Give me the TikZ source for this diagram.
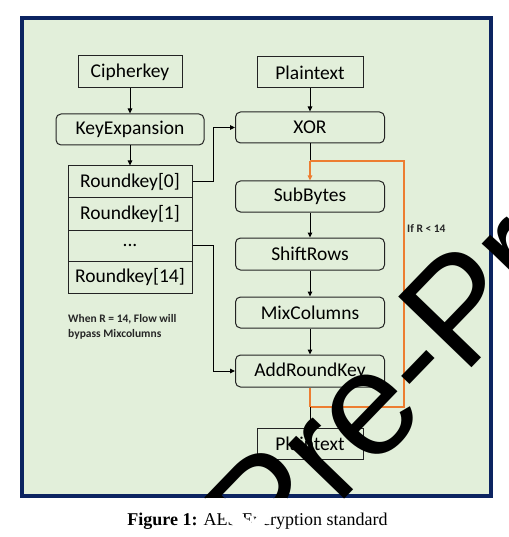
\documentclass[tikz,border=0pt]{standalone}
\usepackage{fontspec}
\setmainfont{Carlito}
\newfontfamily\capfont{Liberation Serif}
\newfontfamily\wmfont{Liberation Sans}
\usetikzlibrary{arrows.meta}
\definecolor{navy}{RGB}{12,36,97}
\definecolor{bggreen}{RGB}{226,239,218}
\definecolor{flow}{RGB}{237,125,49}
\definecolor{edge}{RGB}{35,35,35}
\tikzset{
  box/.style={draw=edge, line width=1pt, inner sep=0pt, align=center,
    font=\fontsize{19.5}{22}\selectfont, text=black},
  sqbox/.style={box},
  rbox/.style={box, rounded corners=5pt},
  conn/.style={draw=black, line width=1pt, -{Triangle[length=5pt,width=4.5pt]}},
  plainconn/.style={draw=black, line width=1pt},
  loopline/.style={draw=flow, line width=1.8pt},
  note/.style={font=\bfseries\fontsize{11.5}{15}\selectfont, text=black!85, inner sep=0pt, align=left},
  watermark/.style={anchor=base west, inner sep=0pt, rotate=46, font=\wmfont\fontsize{148}{150}\selectfont},
}
\begin{document}
\begin{tikzpicture}[x=1pt,y=-1pt]
\useasboundingbox (0,0) rectangle (508,537);
\fill[white] (0,0) rectangle (508,537);
\filldraw[fill=bggreen, draw=navy, line width=4pt] (22,18) rectangle (491,496);

% left column
\node[sqbox, minimum width=104pt, minimum height=32pt] (cipher) at (130,72) {Cipherkey};
\node[rbox, minimum width=148pt, minimum height=31pt] (keyexp) at (130,129.5) {KeyExpansion};
\node[sqbox, minimum width=124pt, minimum height=32pt] (rk0) at (130,182) {Roundkey[0]};
\node[sqbox, minimum width=124pt, minimum height=32pt] (rk1) at (130,214) {Roundkey[1]};
\node[sqbox, minimum width=124pt, minimum height=31pt] (rkd) at (130,245.5) {...};
\node[sqbox, minimum width=124pt, minimum height=32pt] (rk14) at (130,277) {Roundkey[14]};

% right column
\node[sqbox, minimum width=106pt, minimum height=31pt] (plain) at (310,72.5) {Plaintext};
\node[rbox, minimum width=149pt, minimum height=31pt] (xor) at (310,127.5) {XOR};
\node[rbox, minimum width=149pt, minimum height=31pt] (sub) at (310,196.5) {SubBytes};
\node[rbox, minimum width=149pt, minimum height=32pt] (shift) at (310,254) {ShiftRows};
\node[rbox, minimum width=149pt, minimum height=31pt] (mix) at (310,312.5) {MixColumns};
\node[rbox, minimum width=149pt, minimum height=32pt] (ark) at (310,371) {AddRoundKey};
\node[sqbox, minimum width=106pt, minimum height=31pt] (plainout) at (310,443.5) {Plaintext};

\coordinate (split) at (310,161);
\coordinate (join) at (310,407);
\coordinate (loopTR) at (404,161);
\coordinate (loopBR) at (404,407);

% connectors
\draw[conn] (cipher) -- (keyexp);
\draw[conn] (keyexp) -- (rk0);
\draw[conn] (plain) -- (xor);
\draw[conn] (rk0.east) -- ++(21,0) |- (xor.west);
\draw[conn] (rkd.east) -- ++(21,0) |- (ark.west);
\draw[plainconn] (xor.south) -- (split);
\draw[loopline, -{Triangle[length=5pt,width=4.5pt]}] (split) -- (sub.north);
\draw[loopline] (split) -- (loopTR) -- (loopBR) -- (join);
\draw[loopline] (ark.south) -- (join);
\draw[conn] (sub) -- (shift);
\draw[conn] (shift) -- (mix);
\draw[conn] (mix) -- (ark);
\draw[conn] (join) -- (plainout);

% notes
\node[note, anchor=west] (cond) at (407,229) {If R < 14};
\node[note, anchor=north west] (bypass) at (68,314) {When R = 14, Flow will\\bypass Mixcolumns};

% caption
\node[anchor=base, inner sep=0pt, font=\capfont\fontsize{18}{20}\selectfont] (caption) at (257.5,525.5) {\textbf{Figure 1:} AES Encryption standard};

% watermark: black over the figure, white over the caption strip
\begin{scope}
  \clip (0,0) rectangle (508,498);
  \node[watermark, text=black] (wm) at (269,578) {Pre-Pr};
\end{scope}
\begin{scope}
  \clip (0,498) rectangle (508,537);
  \node[watermark, text=white] (wmlow) at (269,578) {Pre-Pr};
\end{scope}
\end{tikzpicture}
\end{document}
